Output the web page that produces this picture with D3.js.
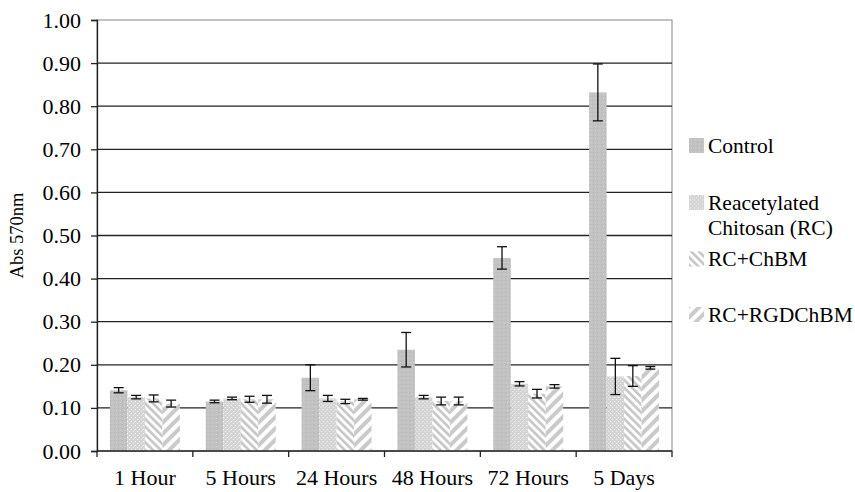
<!DOCTYPE html>
<html>
<head>
<meta charset="utf-8">
<script src="https://cdn.jsdelivr.net/npm/d3@7"></script>
<style>
  body { margin: 0; background: #fff; }
  svg text { font-family: "Liberation Serif", "Times New Roman", serif; fill: #000; }
</style>
</head>
<body>
<div id="chart"></div>
<script>
const categories = ["1 Hour", "5 Hours", "24 Hours", "48 Hours", "72 Hours", "5 Days"];
const seriesNames = ["Control", "Reacetylated Chitosan (RC)", "RC+ChBM", "RC+RGDChBM"];
const legendLines = [["Control"], ["Reacetylated", "Chitosan (RC)"], ["RC+ChBM"], ["RC+RGDChBM"]];

const control     = [0.141, 0.115, 0.170, 0.235, 0.448, 0.832];
const rc          = [0.125, 0.122, 0.122, 0.125, 0.156, 0.173];
const rcChbm      = [0.122, 0.120, 0.115, 0.116, 0.133, 0.174];
const rcRgdChbm   = [0.110, 0.120, 0.120, 0.116, 0.150, 0.193];

const controlErr   = [0.006, 0.003, 0.030, 0.040, 0.026, 0.066];
const rcErr        = [0.004, 0.003, 0.007, 0.004, 0.005, 0.042];
const rcChbmErr    = [0.008, 0.007, 0.005, 0.009, 0.010, 0.024];
const rcRgdChbmErr = [0.008, 0.009, 0.002, 0.009, 0.004, 0.003];

const yTicks = [0, 0.1, 0.2, 0.3, 0.4, 0.5, 0.6, 0.7, 0.8, 0.9, 1.0];

const values = [control, rc, rcChbm, rcRgdChbm];
const errors = [controlErr, rcErr, rcChbmErr, rcRgdChbmErr];

const width = 855, height = 492;
const margin = {top: 20, right: 183, bottom: 41, left: 97};
const innerW = width - margin.left - margin.right;
const innerH = height - margin.top - margin.bottom;
const serif = '"Liberation Serif", "Times New Roman", serif';

const svg = d3.select("#chart").append("svg")
    .attr("width", width)
    .attr("height", height);

// fill patterns, one per series
const defs = svg.append("defs");

const p0 = defs.append("pattern").attr("id", "pat0")
    .attr("patternUnits", "userSpaceOnUse").attr("width", 4).attr("height", 4);
p0.append("rect").attr("width", 4).attr("height", 4).attr("fill", "#c2c2c2");
p0.append("rect").attr("x", 0).attr("y", 0).attr("width", 1).attr("height", 1).attr("fill", "#b4b4b4");
p0.append("rect").attr("x", 2).attr("y", 2).attr("width", 1).attr("height", 1).attr("fill", "#cfcfcf");

const p1 = defs.append("pattern").attr("id", "pat1")
    .attr("patternUnits", "userSpaceOnUse").attr("width", 4).attr("height", 4);
p1.append("rect").attr("width", 4).attr("height", 4).attr("fill", "#d4d4d4");
p1.append("rect").attr("x", 1).attr("y", 1).attr("width", 1).attr("height", 1).attr("fill", "#ffffff");
p1.append("rect").attr("x", 3).attr("y", 3).attr("width", 1).attr("height", 1).attr("fill", "#f0f0f0");

// RC+ChBM: thin "\\\" stripes
const p2 = defs.append("pattern").attr("id", "pat2")
    .attr("patternUnits", "userSpaceOnUse").attr("width", 5.5).attr("height", 5.5)
    .attr("patternTransform", "rotate(-45)");
p2.append("rect").attr("width", 5.5).attr("height", 5.5).attr("fill", "#ffffff");
p2.append("rect").attr("width", 2.6).attr("height", 5.5).attr("fill", "#c6c6c6");

// RC+RGDChBM: wide "///" stripes
const p3 = defs.append("pattern").attr("id", "pat3")
    .attr("patternUnits", "userSpaceOnUse").attr("width", 8).attr("height", 8)
    .attr("patternTransform", "rotate(45)");
p3.append("rect").attr("width", 8).attr("height", 8).attr("fill", "#ffffff");
p3.append("rect").attr("width", 4).attr("height", 8).attr("fill", "#cacaca");

const g = svg.append("g").attr("transform", `translate(${margin.left},${margin.top})`);

const x0 = d3.scaleBand().domain(categories).range([0, innerW]).paddingInner(0.27).paddingOuter(0.135);
const xBand = d3.scaleBand().domain(categories).range([0, innerW]);
const x1 = d3.scaleBand().domain(d3.range(4)).range([0, x0.bandwidth()]);
const y = d3.scaleLinear().domain([0, 1]).range([innerH, 0]);

// plot border (gray) and gridlines
g.append("rect").attr("x", 0).attr("y", 0).attr("width", innerW).attr("height", innerH)
    .attr("fill", "none").attr("stroke", "#9a9a9a").attr("stroke-width", 1.2);

g.append("g").selectAll("line")
    .data(yTicks.filter(t => t > 0 && t < 1))
    .join("line")
    .attr("x1", 0).attr("x2", innerW)
    .attr("y1", d => y(d)).attr("y2", d => y(d))
    .attr("stroke", "#222").attr("stroke-width", 1.3);

// bars
const groups = g.append("g").selectAll("g")
    .data(categories)
    .join("g")
    .attr("transform", d => `translate(${x0(d)},0)`);

groups.selectAll("rect")
    .data((d, i) => values.map((s, k) => ({k, v: s[i], e: errors[k][i]})))
    .join("rect")
    .attr("x", d => x1(d.k))
    .attr("width", x1.bandwidth())
    .attr("y", d => y(d.v))
    .attr("height", d => innerH - y(d.v))
    .attr("fill", d => `url(#pat${d.k})`);

// error bars
const capW = 5;
groups.selectAll("g.err")
    .data((d, i) => values.map((s, k) => ({k, v: s[i], e: errors[k][i]})))
    .join("g")
    .attr("class", "err")
    .each(function(d) {
        const cx = x1(d.k) + x1.bandwidth() / 2;
        const sel = d3.select(this).attr("stroke", "#111").attr("stroke-width", 1.3);
        sel.append("line").attr("x1", cx).attr("x2", cx).attr("y1", y(d.v + d.e)).attr("y2", y(d.v - d.e));
        sel.append("line").attr("x1", cx - capW).attr("x2", cx + capW).attr("y1", y(d.v + d.e)).attr("y2", y(d.v + d.e));
        sel.append("line").attr("x1", cx - capW).attr("x2", cx + capW).attr("y1", y(d.v - d.e)).attr("y2", y(d.v - d.e));
    });

// y axis
const yAxis = g.append("g")
    .attr("font-family", serif)
    .call(d3.axisLeft(y).tickValues(yTicks).tickFormat(d3.format(".2f")).tickSize(6).tickPadding(10));
yAxis.select(".domain").attr("stroke", "#222").attr("stroke-width", 1.3);
yAxis.selectAll(".tick line").attr("stroke", "#222").attr("stroke-width", 1.3);
yAxis.selectAll("text").attr("font-size", 22).style("font-family", serif);

// x axis: ticks at group boundaries
const xAxisG = g.append("g").attr("transform", `translate(0,${innerH})`);
xAxisG.append("line").attr("x1", 0).attr("x2", innerW).attr("stroke", "#222").attr("stroke-width", 1.3);
xAxisG.selectAll("line.tk")
    .data(categories.map(c => xBand(c)).concat([innerW]))
    .join("line")
    .attr("class", "tk")
    .attr("x1", d => d).attr("x2", d => d)
    .attr("y1", 0).attr("y2", 6)
    .attr("stroke", "#222").attr("stroke-width", 1.3);
xAxisG.selectAll("text")
    .data(categories)
    .join("text")
    .attr("x", d => xBand(d) + xBand.bandwidth() / 2)
    .attr("y", 34)
    .attr("text-anchor", "middle")
    .attr("font-size", 22)
    .style("font-family", serif)
    .text(d => d);

// y axis title
svg.append("text")
    .attr("transform", `translate(23,${margin.top + innerH / 2}) rotate(-90)`)
    .attr("text-anchor", "middle")
    .attr("font-size", 18.5)
    .style("font-family", serif)
    .text("Abs 570nm");

// legend
const legendY = [145.5, 202.5, 259, 314.5];
const legend = svg.append("g").attr("transform", "translate(689,0)");
legendLines.forEach((lines, k) => {
    const row = legend.append("g").attr("transform", `translate(0,${legendY[k]})`);
    row.append("rect").attr("x", 0).attr("y", -7.5).attr("width", 15).attr("height", 15)
        .attr("fill", `url(#pat${k})`);
    lines.forEach((t, j) => {
        row.append("text")
            .attr("x", 19)
            .attr("y", 7 + j * 25)
            .attr("font-size", 21.5)
            .style("font-family", serif)
            .text(t);
    });
});
</script>
</body>
</html>
